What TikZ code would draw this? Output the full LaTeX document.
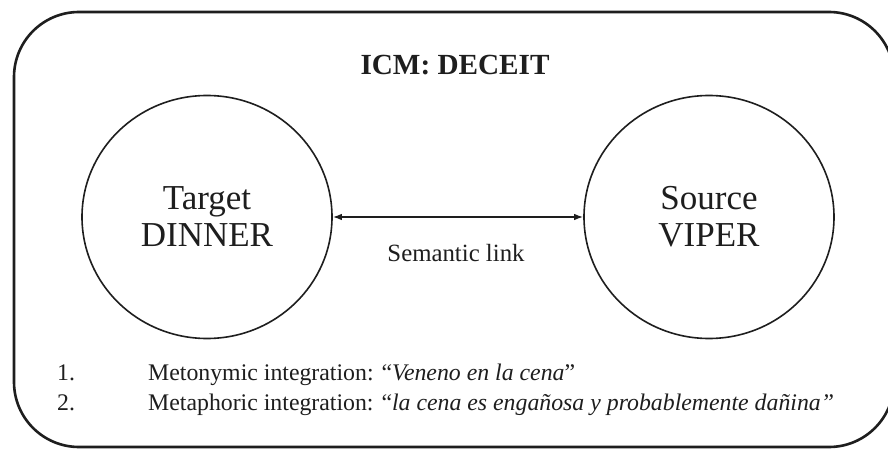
\documentclass[tikz,border=0pt]{standalone}
\usepackage{fontspec}
\setmainfont{Liberation Serif}
\usetikzlibrary{shapes.geometric,arrows.meta}
\definecolor{ink}{HTML}{1E1E1E}
\tikzset{
  icmframe/.style={draw=ink, line width=2.6pt, rounded corners=65pt},
  domainnode/.style={ellipse, draw=ink, line width=1.6pt, minimum width=250pt,
    minimum height=243pt, inner sep=0pt, align=center, text=ink,
    font=\fontsize{35}{37}\selectfont},
  linkarrow/.style={draw=ink, line width=1.4pt, {Latex[length=9pt,width=6.5pt]}-{Latex[length=9pt,width=6.5pt]}},
  linktext/.style={text=ink, font=\fontsize{24.8}{26}\selectfont, inner sep=0pt},
  titletext/.style={text=ink, font=\fontsize{29.2}{32}\selectfont\bfseries, inner sep=0pt},
  listtext/.style={text=ink, font=\fontsize{23.8}{26}\selectfont, inner sep=0pt, anchor=base west}
}
\begin{document}
\begin{tikzpicture}[x=1pt,y=1pt]
  \useasboundingbox (0,0) rectangle (888,450);
  \clip (0,0) rectangle (888,450);
  \fill[white] (0,0) rectangle (888,450);
  % outer ICM frame
  \draw[icmframe] (14,438) rectangle (894,3);
  % title
  \node[titletext, anchor=base] (title) at (455,375) {ICM: DECEIT};
  % target and source domains
  \node[domainnode] (target) at (207,233) {Target\\DINNER};
  \node[domainnode] (source) at (709,233) {Source\\VIPER};
  \draw[linkarrow] (target) -- (source);
  \node[linktext, anchor=base] (linklabel) at (456,188) {Semantic link};
  % integrations
  \node[listtext] (n1) at (57,70) {1.};
  \node[listtext] (n2) at (57,40) {2.};
  \node[listtext] (i1) at (148,70) {Metonymic integration: “\textit{Veneno en la cena}”};
  \node[listtext] (i2) at (148,40) {Metaphoric integration: “\textit{la cena es engañosa y probablemente dañina”}};
\end{tikzpicture}
\end{document}
